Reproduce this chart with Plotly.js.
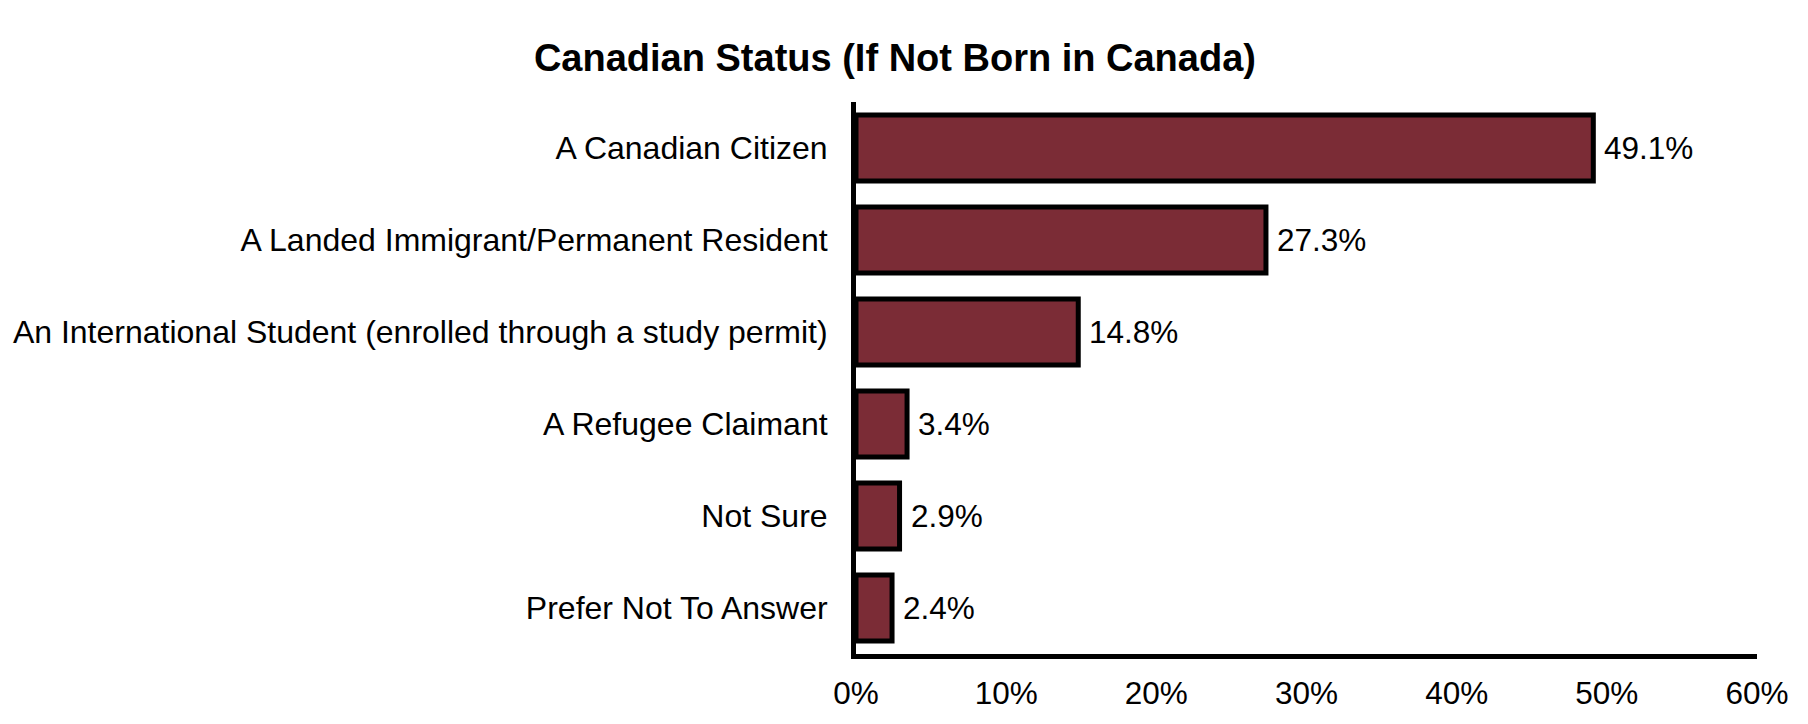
<!DOCTYPE html>
<html>
<head>
<meta charset="utf-8">
<script src="https://cdn.plot.ly/plotly-3.0.1.min.js"></script>
<style>
  html, body { margin: 0; padding: 0; background: #ffffff; }
  #chart { width: 1808px; height: 724px; }
</style>
</head>
<body>
<div id="chart"></div>
<script>
const categories = [
  "A Canadian Citizen",
  "A Landed Immigrant/Permanent Resident",
  "An International Student (enrolled through a study permit)",
  "A Refugee Claimant",
  "Not Sure",
  "Prefer Not To Answer"
];
const values = [49.1, 27.3, 14.8, 3.4, 2.9, 2.4];
const xTickValues = [0, 10, 20, 30, 40, 50, 60];
const xTickLabels = ["0%", "10%", "20%", "30%", "40%", "50%", "60%"];
const chartTitle = "Canadian Status (If Not Born in Canada)";

const fontFamily = "Liberation Sans, Arial, Helvetica, sans-serif";

const trace = {
  type: "bar",
  orientation: "h",
  x: values,
  y: categories,
  width: 0.715,
  marker: {
    color: "rgb(123,44,54)",
    line: { color: "#000000", width: 5 }
  },
  hoverinfo: "skip"
};

const annotations = values.map((v, i) => ({
  x: v,
  y: categories[i],
  xref: "x",
  yref: "y",
  text: v.toFixed(1) + "%",
  showarrow: false,
  xanchor: "left",
  yanchor: "middle",
  xshift: 9,
  font: { family: fontFamily, size: 31.5, color: "#000000" }
}));

const layout = {
  width: 1808,
  height: 724,
  paper_bgcolor: "#ffffff",
  plot_bgcolor: "#ffffff",
  margin: { l: 856, r: 51, t: 102, b: 70, pad: 0 },
  title: {
    text: "<b>" + chartTitle + "</b>",
    x: 0.495,
    xanchor: "center",
    y: 0.92,
    yanchor: "middle",
    font: { family: fontFamily, size: 38, color: "#000000" }
  },
  showlegend: false,
  bargap: 0.285,
  xaxis: {
    range: [0, 60],
    tickvals: xTickValues,
    ticktext: xTickLabels,
    showgrid: false,
    zeroline: false,
    showline: true,
    linecolor: "#000000",
    linewidth: 5,
    ticks: "",
    ticklabelstandoff: 7,
    tickfont: { family: fontFamily, size: 31.5, color: "#000000" },
    fixedrange: true
  },
  yaxis: {
    type: "category",
    categoryorder: "array",
    categoryarray: categories,
    autorange: "reversed",
    showgrid: false,
    zeroline: false,
    showline: true,
    linecolor: "#000000",
    linewidth: 5,
    ticks: "",
    ticklabelstandoff: 17,
    tickfont: { family: fontFamily, size: 32, color: "#000000" },
    fixedrange: true
  },
  annotations: annotations
};

Plotly.newPlot("chart", [trace], layout, { displayModeBar: false, staticPlot: true });
</script>
</body>
</html>
